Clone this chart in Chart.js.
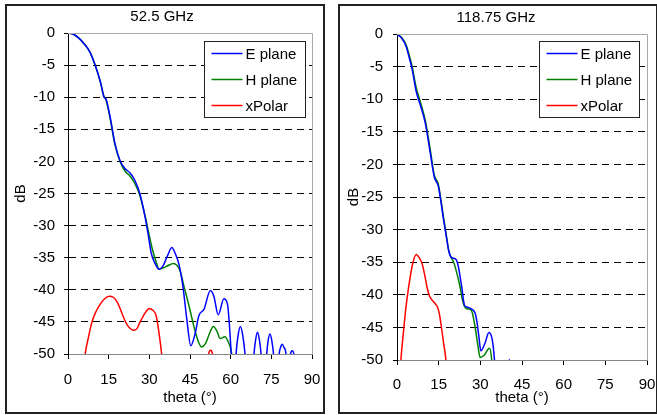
<!DOCTYPE html>
<html>
<head>
<meta charset="utf-8">
<script src="https://cdn.jsdelivr.net/npm/chart.js@4.4.0/dist/chart.umd.min.js"></script>
<style>
body { margin: 0; background: #fff; width: 657px; height: 415px; overflow: hidden; position: relative; }
.panel { position: absolute; top: 4px; width: 320px; height: 410px; border: 2px solid #222; box-sizing: border-box; background: #fff; }
.panel canvas { display: block; }
</style>
</head>
<body>
<div class="panel" style="left:5px"><canvas id="chart52" width="316" height="406"></canvas></div>
<div class="panel" style="left:338px"><canvas id="chart118" width="316" height="406"></canvas></div>
<script>
// axis ticks
const thetaTicks = [0, 15, 30, 45, 60, 75, 90];
const dbTicks = [0, -5, -10, -15, -20, -25, -30, -35, -40, -45, -50];
const seriesNames = ['E plane', 'H plane', 'xPolar'];
const seriesColors = ['#0000ff', '#008000', '#ff0000'];

// 52.5 GHz
const eTheta52 = [0, 2, 4, 6, 8, 10, 12, 13.3, 14, 15.5, 17.3, 19.2, 21, 22.9, 24.6, 26.5, 28.4, 29.5, 30.7, 32, 33.6, 35, 36.6, 38.3, 39.5, 40.9, 42.4, 43.8, 45.3, 46.8, 48.3, 50.2, 52.5, 53.8, 55.4, 57.5, 58.8, 60.2, 61.1, 62, 62.7, 63.6, 64.5, 65.3, 67, 68.6, 69.2, 69.9, 70.6, 71.2, 72.2, 73.3, 73.8, 74.5, 75.2, 75.8, 76.9, 77.9, 78.4, 79, 79.7, 80.4, 81.3, 82.1, 82.7, 83.3, 84];
const eDb52 = [0, -0.2, -0.8, -1.7, -2.9, -5, -7.7, -10, -10.3, -13, -17.2, -19.9, -21.1, -21.8, -22.9, -25, -28.6, -31.2, -34.3, -35.8, -36.8, -36.3, -34.8, -33.4, -34.3, -36, -39.5, -44.5, -48.7, -47, -44, -43, -40.1, -41, -43.9, -41.4, -42.2, -50, -58, -50, -47.2, -45.7, -47.2, -50, -60, -50, -47.8, -46.6, -47.8, -50, -58, -50, -48, -46.9, -48, -50, -58, -50, -49, -48.5, -49, -50, -57, -50, -49.5, -50, -56];
const hTheta52 = [0, 2, 4, 6, 8, 10, 12, 13.3, 14, 15.5, 17.3, 19.2, 21, 22.9, 24.6, 26.5, 28.4, 29.8, 31.2, 32.4, 33.6, 35, 36.6, 38.9, 41.3, 42.8, 44.4, 46.8, 48.2, 49.3, 50.7, 52.2, 53.6, 55, 56.1, 57.9, 59.1, 60.4, 61.5];
const hDb52 = [0, -0.2, -0.8, -1.7, -2.9, -5, -7.7, -9.9, -10.4, -13.2, -17.4, -20, -21.5, -22.3, -23.4, -25.3, -28.4, -31.2, -33.8, -35.5, -36.8, -36.6, -36.3, -35.9, -37, -39.5, -42.1, -46.3, -48.2, -48.9, -48.4, -46.8, -45.7, -46.5, -47.6, -47.3, -48.1, -50, -55];
const xTheta52 = [5.8, 6.3, 7.5, 8.7, 10.2, 11.8, 13.5, 15.2, 16.8, 18, 19.3, 20.4, 22.2, 24.3, 25.5, 26.6, 28.3, 30, 31.3, 32.5, 33.5, 34.6, 35.2, 40, 50, 51.9, 52.6, 53.3, 54];
const xDb52 = [-53, -50.2, -47.5, -45.2, -43.5, -42.3, -41.4, -41, -41.2, -41.8, -43, -44.2, -45.7, -46.3, -46, -45, -43.7, -42.9, -43.2, -44, -46.5, -50.2, -53, -60, -60, -50, -49.4, -50, -55];

// 118.75 GHz
const eTheta118 = [0, 1.8, 3.3, 4.5, 5.4, 6.9, 8.4, 10.2, 12, 13.4, 14.9, 16.7, 17.8, 18.6, 19.4, 20.4, 21.3, 22.1, 23.3, 24.3, 25.4, 26.9, 28.1, 28.8, 29.5, 30.2, 31.7, 33.1, 34.3, 35.1, 36, 39.6, 40.4, 41.2];
const eDb118 = [0, -0.7, -1.9, -3.8, -5.3, -8.8, -10.9, -13.7, -18.3, -21.9, -23.4, -28.3, -31.2, -33.2, -34.2, -34.4, -34.6, -35.7, -38.8, -41.6, -41.9, -42.2, -42.8, -44.2, -46.5, -48.6, -47.4, -45.8, -46.9, -50, -56, -56, -49.9, -56];
const hTheta118 = [0, 1.8, 3.3, 4.5, 5.4, 6.9, 8.4, 10.2, 12, 13.4, 14.9, 16.7, 17.8, 18.6, 19.4, 20.4, 21.5, 22.7, 23.8, 24.9, 26, 27, 28.1, 29.2, 29.9, 31.3, 33.3, 34.1, 35];
const hDb118 = [0, -0.6, -1.7, -3.4, -4.9, -8.2, -10.4, -13.3, -17.8, -21.6, -23.1, -28, -31, -33.2, -34.2, -35, -36.6, -38.8, -41.2, -42.1, -42.2, -42.6, -44.9, -48, -49.6, -49.3, -48.2, -50, -56];
const xTheta118 = [1, 1.4, 2.4, 3.2, 4.2, 5.5, 6.9, 8, 9, 10, 10.8, 11.7, 12.6, 13.6, 14.6, 15.3, 15.8, 16.8, 17.6, 18];
const xDb118 = [-53, -50, -45.4, -42, -38.8, -35.5, -33.8, -34.3, -35.2, -37, -38.8, -40.2, -40.8, -41.3, -41.9, -43, -44.4, -47.5, -50, -53];

const FONT_FAMILY = '"Liberation Sans", Arial, sans-serif';
const FONT_SIZE = 15;
Chart.defaults.font.family = FONT_FAMILY;
Chart.defaults.font.size = FONT_SIZE;
Chart.defaults.color = '#000';

function points(xs, ys) {
  return xs.map((x, i) => ({ x: x, y: ys[i] }));
}

const frameAndLegend = {
  id: 'frameAndLegend',
  afterDraw(chart, args, opts) {
    const ctx = chart.ctx;
    const a = chart.chartArea;
    ctx.save();
    // top and right edge of the plot
    ctx.strokeStyle = '#a8a8a8';
    ctx.lineWidth = 1;
    ctx.beginPath();
    ctx.moveTo(a.left, a.top + 0.5);
    ctx.lineTo(a.right + 0.5, a.top + 0.5);
    ctx.lineTo(a.right + 0.5, a.bottom);
    ctx.stroke();

    // legend box
    const bx = Math.round(a.right - opts.right - opts.width) + 0.5;
    const by = Math.round(a.top + opts.top) + 0.5;
    ctx.fillStyle = '#fff';
    ctx.fillRect(bx, by, opts.width, opts.height);
    ctx.strokeStyle = '#222';
    ctx.lineWidth = 1;
    ctx.strokeRect(bx, by, opts.width, opts.height);
    ctx.font = FONT_SIZE + 'px ' + FONT_FAMILY;
    ctx.textBaseline = 'middle';
    chart.data.datasets.forEach((ds, i) => {
      const y = by + 12 + i * 26;
      ctx.strokeStyle = ds.borderColor;
      ctx.lineWidth = 1.5;
      ctx.beginPath();
      ctx.moveTo(bx + 7, y);
      ctx.lineTo(bx + 38, y);
      ctx.stroke();
      ctx.fillStyle = '#000';
      ctx.fillText(ds.label, bx + 41, y + 1);
    });
    ctx.restore();
  }
};

function makeChart(id, title, data, lay) {
  new Chart(document.getElementById(id), {
    type: 'line',
    data: {
      datasets: data.map((d, i) => ({
        label: seriesNames[i],
        data: d,
        borderColor: seriesColors[i],
        borderWidth: 1.5,
        pointRadius: 0,
        cubicInterpolationMode: 'monotone',
        fill: false
      }))
    },
    options: {
      responsive: false,
      animation: false,
      layout: { padding: { left: 5, right: lay.padRight, top: 0, bottom: 0 } },
      plugins: {
        legend: { display: false },
        tooltip: { enabled: false },
        title: {
          display: true,
          text: title,
          color: '#000',
          font: { size: FONT_SIZE, weight: 'normal' },
          padding: { top: lay.titleTop, bottom: lay.titleBottom }
        },
        frameAndLegend: lay.legend
      },
      scales: {
        x: {
          type: 'linear',
          min: 0,
          max: 90,
          afterBuildTicks: (s) => { s.ticks = thetaTicks.map((v) => ({ value: v })); },
          afterFit: (s) => { s.height = lay.xHeight; s.paddingLeft = 0; s.paddingRight = 0; },
          ticks: { color: '#000', font: { size: FONT_SIZE }, padding: lay.xTickPad, maxRotation: 0 },
          grid: { drawOnChartArea: false, tickColor: '#000', tickLength: 5 },
          border: { color: '#888', width: 1 },
          title: { display: true, text: 'theta (°)', color: '#000', font: { size: FONT_SIZE }, padding: { top: 0, bottom: lay.xTitlePad } }
        },
        y: {
          type: 'linear',
          min: -50,
          max: 0,
          afterBuildTicks: (s) => { s.ticks = dbTicks.map((v) => ({ value: v })); },
          afterFit: (s) => { s.width = lay.yWidth; s.paddingTop = 0; s.paddingBottom = 0; },
          ticks: { color: '#000', font: { size: FONT_SIZE }, padding: lay.yTickPad },
          grid: {
            color: (c) => (c.tick && (c.tick.value === 0 || c.tick.value === -50)) ? 'rgba(0,0,0,0)' : '#000',
            tickColor: '#000',
            tickLength: 4,
            tickBorderDash: []
          },
          border: { color: '#000', width: 1, dash: [7, 5] },
          title: { display: true, text: 'dB', color: '#000', font: { size: FONT_SIZE }, padding: { top: 0, bottom: 0 } }
        }
      }
    },
    plugins: [frameAndLegend]
  });
}

makeChart('chart52', '52.5 GHz', [
  points(eTheta52, eDb52),
  points(hTheta52, hDb52),
  points(xTheta52, xDb52)
], {
  padRight: 11, yWidth: 56, xHeight: 58, titleTop: 2, titleBottom: 7,
  xTickPad: 12, xTitlePad: 5, yTickPad: 9,
  legend: { right: 7, top: 8, width: 101, height: 76 }
});

makeChart('chart118', '118.75 GHz', [
  points(eTheta118, eDb118),
  points(hTheta118, hDb118),
  points(xTheta118, xDb118)
], {
  padRight: 9, yWidth: 52, xHeight: 52, titleTop: 3, titleBottom: 7,
  xTickPad: 11, xTitlePad: 5, yTickPad: 10,
  legend: { right: 8, top: 7, width: 100, height: 76 }
});
</script>
</body>
</html>
